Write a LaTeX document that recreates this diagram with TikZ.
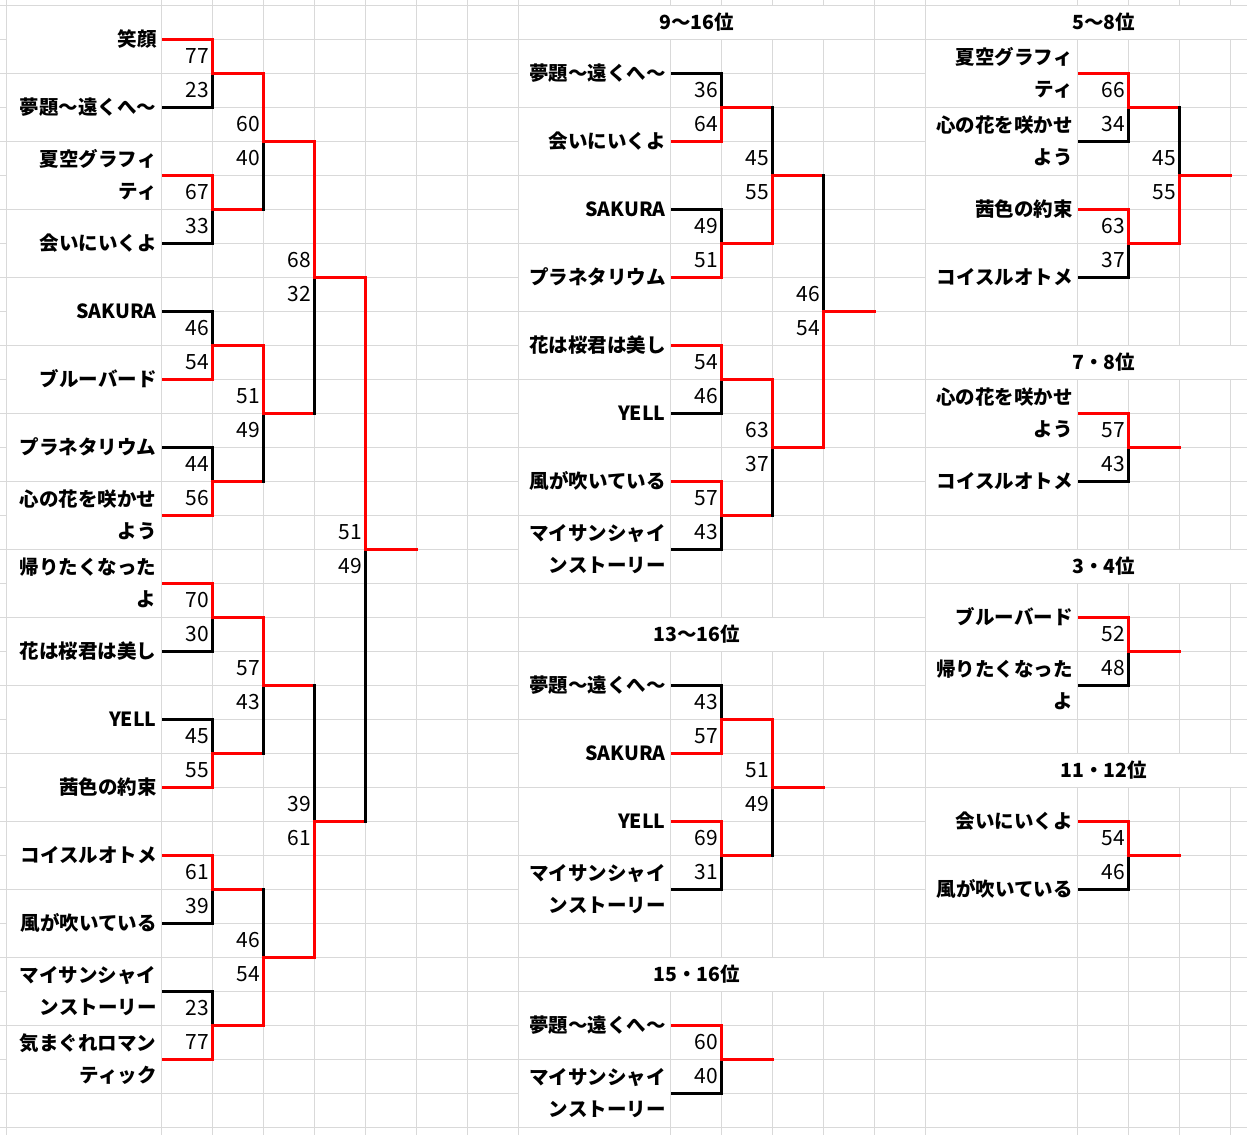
\documentclass[tikz,border=0pt]{standalone}
\usepackage{fontspec}
\setmainfont{Noto Sans CJK JP}
\usetikzlibrary{calc}

\newcommand\duel[5]{%
  \ifnum#4>#5\relax\def\duelA{win}\def\duelB{lose}\else\def\duelA{lose}\def\duelB{win}\fi
  \path (#2) -- coordinate[pos=.5] (#1-m) (#3);
  \coordinate (#1-w) at ($(#1-m)+(51,0)$);
  \draw[\duelA] (#2) -- (#1-m);
  \draw[\duelB] (#1-m) -- (#3);
  \draw[win] (#1-m) -- (#1-w);
  \node[score] (#1-s1) at ($(#1-m)+(-3.5,-17)$) {#4};
  \node[score] (#1-s2) at ($(#1-m)+(-3.5,17)$) {#5};
}
\newcommand\heat[5]{%
  \coordinate (#1-a) at ($(#2.east)+(51.5,0)$);
  \coordinate (#1-b) at ($(#3.east)+(51.5,0)$);
  \ifnum#4>#5\relax\def\duelA{win}\def\duelB{lose}\else\def\duelA{lose}\def\duelB{win}\fi
  \draw[\duelA] ($(#2.east)+(2,0)$) -- (#1-a);
  \draw[\duelB] ($(#3.east)+(2,0)$) -- (#1-b);
  \duel{#1}{#1-a}{#1-b}{#4}{#5}%
}

\begin{document}
\begin{tikzpicture}[x=1pt,y=-1pt,
  gridline/.style={draw=gray!30,line width=1pt},
  win/.style={draw=red,line width=3pt,line cap=rect},
  lose/.style={draw=black,line width=3pt,line cap=rect},
  namecell/.style={fill=white,minimum width=151,minimum height=67,text width=142,inner xsep=4,inner ysep=0,align=right,font=\bfseries\fontsize{19.5}{32.5}\selectfont},
  wide/.style={minimum width=154.5,text width=145.5},
  titlecell/.style={fill=white,minimum width=355,minimum height=33,inner sep=0,font=\bfseries\fontsize{19.5}{24}\selectfont},
  score/.style={anchor=east,inner sep=0,font=\fontsize{21}{21}\selectfont}]
\useasboundingbox (0,0) rectangle (1247,1135);
\clip (0,0) rectangle (1247,1135);
\foreach \gx in {6,161.5,212.5,263.5,314.5,365.5,416.5,467.5,518.5,670.5,721.5,772.5,823.5,874.5,925.5,1077.5,1128.5,1179.5,1230.5}
  \draw[gridline] (\gx,0) -- (\gx,1135);
\foreach \k in {0,...,33}
  \draw[gridline] (0,{5.5+34*\k}) -- (1247,{5.5+34*\k});

\node[titlecell] (t9) at (696.5,22.5) {9～16位};
\node[titlecell] (t13) at (696.5,634.5) {13～16位};
\node[titlecell] (t15) at (696.5,974.5) {15・16位};
\node[titlecell] (t5) at (1103.5,22.5) {5～8位};
\node[titlecell] (t7) at (1103.5,362.5) {7・8位};
\node[titlecell] (t3) at (1103.5,566.5) {3・4位};
\node[titlecell] (t11) at (1103.5,770.5) {11・12位};

\foreach \t [count=\i] in {笑顔,夢題～遠くへ～,{夏空グラフィ\\ティ},会いにいくよ,SAKURA,ブルーバード,プラネタリウム,{心の花を咲かせ\\よう},{帰りたくなった\\よ},花は桜君は美し,YELL,茜色の約束,コイスルオトメ,風が吹いている,{マイサンシャイ\\ンストーリー},{気まぐれロマン\\ティック}}
  \node[namecell,wide] (L\i) at (83.75,{68*\i-29}) {\t};
\foreach \t [count=\i] in {夢題～遠くへ～,会いにいくよ,SAKURA,プラネタリウム,花は桜君は美し,YELL,風が吹いている,{マイサンシャイ\\ンストーリー}}
  \node[namecell] (N\i) at (594.5,{68*\i+5}) {\t};
\foreach \t [count=\i] in {夢題～遠くへ～,SAKURA,YELL,{マイサンシャイ\\ンストーリー}}
  \node[namecell] (P\i) at (594.5,{68*\i+617}) {\t};
\foreach \t [count=\i] in {夢題～遠くへ～,{マイサンシャイ\\ンストーリー}}
  \node[namecell] (Q\i) at (594.5,{68*\i+957}) {\t};
\foreach \t [count=\i] in {{夏空グラフィ\\ティ},{心の花を咲かせ\\よう},茜色の約束,コイスルオトメ}
  \node[namecell] (R\i) at (1001.5,{68*\i+5}) {\t};
\foreach \t [count=\i] in {{心の花を咲かせ\\よう},コイスルオトメ}
  \node[namecell] (S\i) at (1001.5,{68*\i+345}) {\t};
\foreach \t [count=\i] in {ブルーバード,{帰りたくなった\\よ}}
  \node[namecell] (T\i) at (1001.5,{68*\i+549}) {\t};
\foreach \t [count=\i] in {会いにいくよ,風が吹いている}
  \node[namecell] (U\i) at (1001.5,{68*\i+753}) {\t};

\heat{a1}{L1}{L2}{77}{23}
\heat{a2}{L3}{L4}{67}{33}
\heat{a3}{L5}{L6}{46}{54}
\heat{a4}{L7}{L8}{44}{56}
\heat{a5}{L9}{L10}{70}{30}
\heat{a6}{L11}{L12}{45}{55}
\heat{a7}{L13}{L14}{61}{39}
\heat{a8}{L15}{L16}{23}{77}
\duel{a9}{a1-w}{a2-w}{60}{40}
\duel{a10}{a3-w}{a4-w}{51}{49}
\duel{a11}{a5-w}{a6-w}{57}{43}
\duel{a12}{a7-w}{a8-w}{46}{54}
\duel{a13}{a9-w}{a10-w}{68}{32}
\duel{a14}{a11-w}{a12-w}{39}{61}
\duel{a15}{a13-w}{a14-w}{51}{49}

\heat{b1}{N1}{N2}{36}{64}
\heat{b2}{N3}{N4}{49}{51}
\heat{b3}{N5}{N6}{54}{46}
\heat{b4}{N7}{N8}{57}{43}
\duel{b5}{b1-w}{b2-w}{45}{55}
\duel{b6}{b3-w}{b4-w}{63}{37}
\duel{b7}{b5-w}{b6-w}{46}{54}
\heat{c1}{P1}{P2}{43}{57}
\heat{c2}{P3}{P4}{69}{31}
\duel{c3}{c1-w}{c2-w}{51}{49}
\heat{d1}{Q1}{Q2}{60}{40}

\heat{e1}{R1}{R2}{66}{34}
\heat{e2}{R3}{R4}{63}{37}
\duel{e3}{e1-w}{e2-w}{45}{55}
\heat{f1}{S1}{S2}{57}{43}
\heat{g1}{T1}{T2}{52}{48}
\heat{h1}{U1}{U2}{54}{46}
\end{tikzpicture}
\end{document}
